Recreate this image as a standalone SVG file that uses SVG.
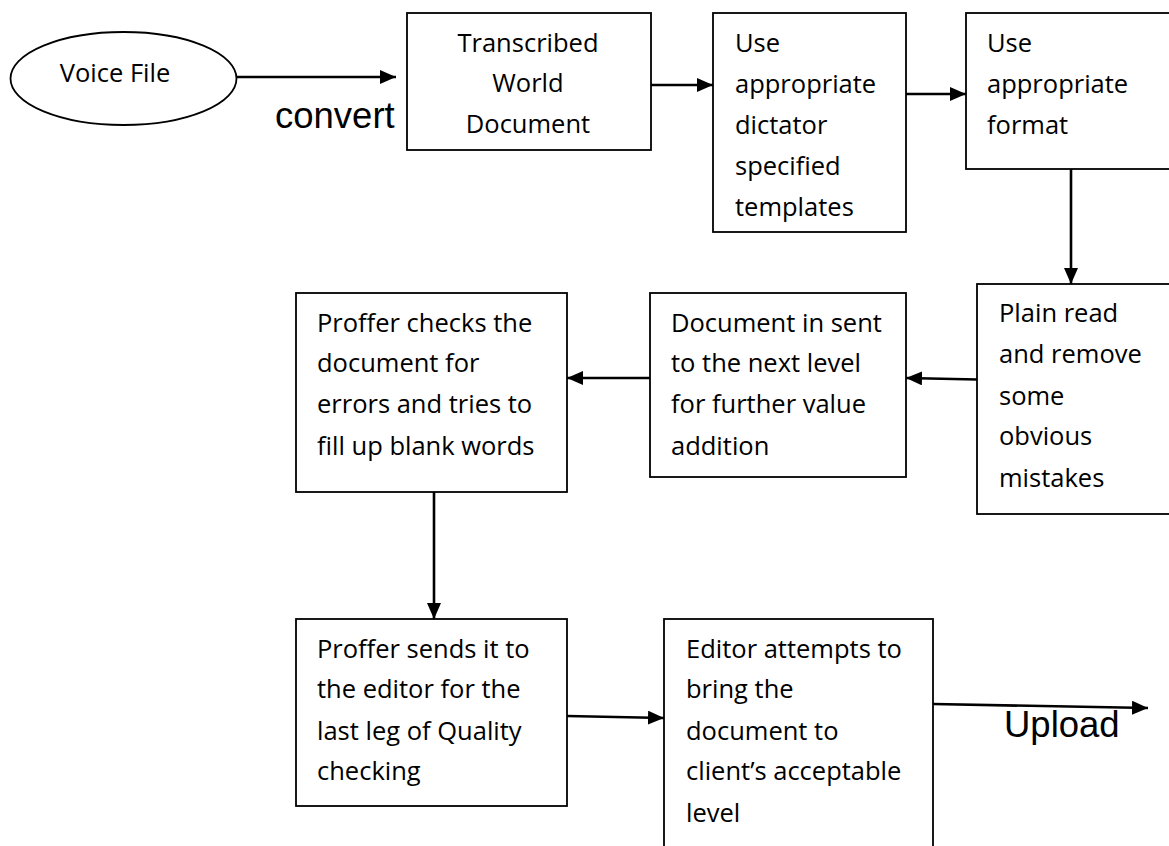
<svg xmlns="http://www.w3.org/2000/svg" width="1169" height="846" viewBox="0 0 1169 846">
<defs>
<marker id="ah" viewBox="0 0 16 14" refX="16" refY="7" markerWidth="16" markerHeight="14" markerUnits="userSpaceOnUse" orient="auto">
<path d="M0,0 L16,7 L0,14 Z" fill="#000"/>
</marker>
<style>
.box{fill:#fff;stroke:#000;stroke-width:1.8}
.t{font-family:"Open Sans","Noto Sans",sans-serif;font-size:25.5px;fill:#000}
.c{text-anchor:middle}
.big{font-family:"Liberation Sans",Arial,sans-serif;font-size:36.5px;fill:#000}
.ln{fill:none;stroke:#000;stroke-width:2.6;marker-end:url(#ah)}
</style>
</defs>
<rect width="1169" height="846" fill="#fff"/>
<g id="voice">
<ellipse class="box" cx="123.5" cy="78.5" rx="113" ry="46.5"/>
<text class="t c" x="115" y="82">Voice File</text>
</g>
<g id="transcribed">
<rect class="box" x="407" y="13" width="244" height="137"/>
<text class="t c" x="528" y="52">Transcribed</text>
<text class="t c" x="528" y="92">World</text>
<text class="t c" x="528" y="133">Document</text>
</g>
<g id="templates">
<rect class="box" x="713" y="13" width="193" height="219"/>
<text class="t" x="735" y="52">Use</text>
<text class="t" x="735" y="93">appropriate</text>
<text class="t" x="735" y="134">dictator</text>
<text class="t" x="735" y="175">specified</text>
<text class="t" x="735" y="216">templates</text>
</g>
<g id="format">
<rect class="box" x="966" y="13" width="215" height="156"/>
<text class="t" x="987" y="52">Use</text>
<text class="t" x="987" y="93">appropriate</text>
<text class="t" x="987" y="134">format</text>
</g>
<g id="plainread">
<rect class="box" x="977" y="284" width="210" height="230"/>
<text class="t" x="999" y="322">Plain read</text>
<text class="t" x="999" y="363">and remove</text>
<text class="t" x="999" y="405">some</text>
<text class="t" x="999" y="445">obvious</text>
<text class="t" x="999" y="487">mistakes</text>
</g>
<g id="nextlevel">
<rect class="box" x="650" y="293" width="256" height="184"/>
<text class="t" x="671" y="332">Document in sent</text>
<text class="t" x="671" y="372">to the next level</text>
<text class="t" x="671" y="413">for further value</text>
<text class="t" x="671" y="455">addition</text>
</g>
<g id="proffercheck">
<rect class="box" x="296" y="293" width="271" height="199"/>
<text class="t" x="317" y="332">Proffer checks the</text>
<text class="t" x="317" y="372">document for</text>
<text class="t" x="317" y="413">errors and tries to</text>
<text class="t" x="317" y="455">fill up blank words</text>
</g>
<g id="proffersend">
<rect class="box" x="296" y="619" width="271" height="187"/>
<text class="t" x="317" y="658">Proffer sends it to</text>
<text class="t" x="317" y="698">the editor for the</text>
<text class="t" x="317" y="740">last leg of Quality</text>
<text class="t" x="317" y="780">checking</text>
</g>
<g id="editor">
<rect class="box" x="664" y="619" width="269" height="240"/>
<text class="t" x="686" y="658">Editor attempts to</text>
<text class="t" x="686" y="698">bring the</text>
<text class="t" x="686" y="740">document to</text>
<text class="t" x="686" y="780">client’s acceptable</text>
<text class="t" x="686" y="822">level</text>
</g>
<g id="connectors">
<line class="ln" x1="237" y1="77" x2="396" y2="77"/>
<text class="big" x="275" y="128">convert</text>
<line class="ln" x1="651" y1="85" x2="713" y2="85"/>
<line class="ln" x1="906" y1="94" x2="966" y2="94"/>
<line class="ln" x1="1071" y1="169" x2="1071" y2="284"/>
<line class="ln" x1="977" y1="379.5" x2="906" y2="378"/>
<line class="ln" x1="650" y1="378" x2="567" y2="378"/>
<line class="ln" x1="434" y1="492" x2="434" y2="619"/>
<line class="ln" x1="567" y1="716" x2="664" y2="718"/>
<line class="ln" x1="933" y1="704" x2="1148" y2="708"/>
<text class="big" x="1004" y="737">Upload</text>
</g>
</svg>
